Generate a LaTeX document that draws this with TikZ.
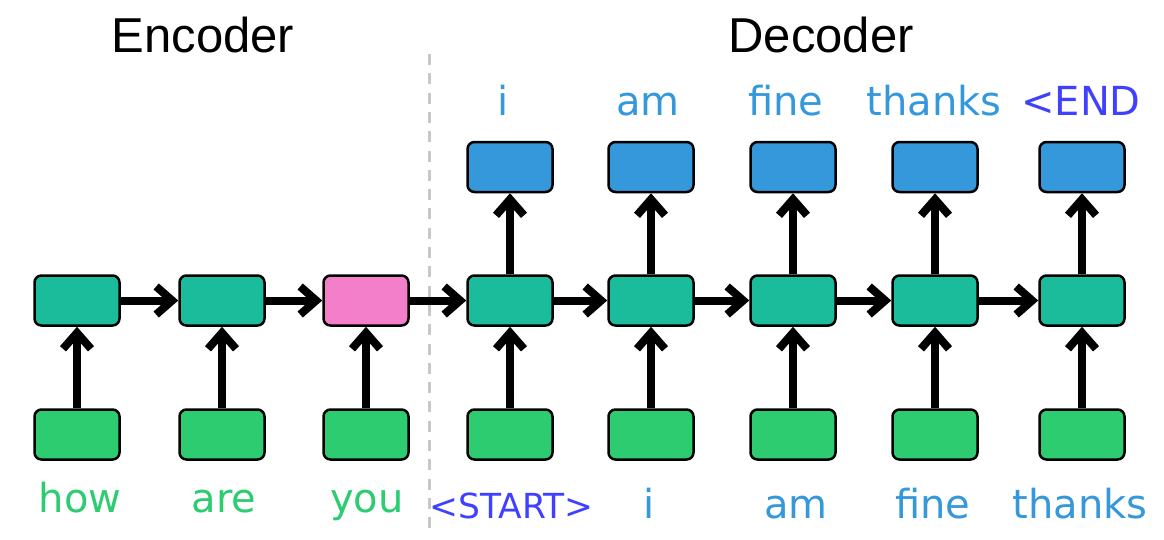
\documentclass[tikz,border=0pt]{standalone}
\usepackage{fontspec}
\setmainfont{DejaVu Sans}
\newfontfamily\titlefont{Liberation Sans}
\usetikzlibrary{arrows.meta}
\definecolor{hidc}{HTML}{1ABC9C}
\definecolor{inc}{HTML}{2ECC71}
\definecolor{outc}{HTML}{3498DB}
\definecolor{ctxc}{HTML}{F37EC9}
\definecolor{tokc}{HTML}{4040FF}
\definecolor{sepc}{HTML}{C8C8C8}
\tikzset{
  cell/.style={draw=black, line width=2.5pt, rounded corners=7pt, minimum width=85pt, minimum height=50pt, inner sep=0pt},
  hid/.style={cell, fill=hidc},
  inp/.style={cell, fill=inc},
  outp/.style={cell, fill=outc},
  ctx/.style={cell, fill=ctxc},
  arr/.style={line width=8pt, -{Straight Barb[sharp, length=16pt, width=28pt]}},
  lbl/.style={anchor=base, inner sep=0pt, font=\fontsize{40}{48}\selectfont},
  sml/.style={anchor=base, inner sep=0pt, font=\fontsize{34.5}{42}\selectfont},
  ttl/.style={anchor=base, inner sep=0pt, font=\titlefont\fontsize{49}{58}\selectfont},
}
\begin{document}
\begin{tikzpicture}[x=1pt,y=-1pt]
\useasboundingbox (0,0) rectangle (1164,539);
% separator
\coordinate (s1) at (429,54);
\coordinate (s2) at (429,532);
\draw[sepc, line width=3pt, dash pattern=on 11pt off 8.3pt] (s1) -- (s2);
% titles
\node[ttl] (tenc) at (203,52) {Encoder};
\node[ttl] (tdec) at (821,52) {Decoder};
% encoder
\node[hid] (h1) at (77,300.5) {};
\node[hid] (h2) at (222,300.5) {};
\node[ctx] (h3) at (366,300.5) {};
\node[inp] (x1) at (77,434.5) {};
\node[inp] (x2) at (222,434.5) {};
\node[inp] (x3) at (366,434.5) {};
% decoder
\node[hid] (d1) at (510,300.5) {};
\node[hid] (d2) at (651,300.5) {};
\node[hid] (d3) at (793,300.5) {};
\node[hid] (d4) at (935,300.5) {};
\node[hid] (d5) at (1082,300.5) {};
\node[inp] (y1) at (510,434.5) {};
\node[inp] (y2) at (651,434.5) {};
\node[inp] (y3) at (793,434.5) {};
\node[inp] (y4) at (935,434.5) {};
\node[inp] (y5) at (1082,434.5) {};
\node[outp] (o1) at (510,167) {};
\node[outp] (o2) at (651,167) {};
\node[outp] (o3) at (793,167) {};
\node[outp] (o4) at (935,167) {};
\node[outp] (o5) at (1082,167) {};
% arrows
\foreach \a/\b in {h1/h2,h2/h3,h3/d1,d1/d2,d2/d3,d3/d4,d4/d5}
  \draw[arr] (\a.east) -- (\b.west);
\foreach \a/\b in {x1/h1,x2/h2,x3/h3,y1/d1,y2/d2,y3/d3,y4/d4,y5/d5}
  \draw[arr] (\a.north) -- (\b.south);
\foreach \a/\b in {d1/o1,d2/o2,d3/o3,d4/o4,d5/o5}
  \draw[arr] (\a.north) -- (\b.south);
% labels
\node[lbl, text=inc] (lhow) at (80,512) {how};
\node[lbl, text=inc] (lare) at (224,512) {are};
\node[lbl, text=inc] (lyou) at (367,512) {you};
\node[sml, text=tokc] (lst) at (511.5,518) {<START>};
\node[lbl, text=outc] (li) at (649.5,518) {i};
\node[lbl, text=outc] (lam) at (796,518) {am};
\node[lbl, text=outc] (lfine) at (933,518) {fine};
\node[lbl, text=outc] (lthanks) at (1080,518) {thanks};
\node[lbl, text=outc] (ti) at (503,115) {i};
\node[lbl, text=outc] (tam) at (648,115) {am};
\node[lbl, text=outc] (tfine) at (786,115) {fine};
\node[lbl, text=outc] (tthanks) at (934,115) {thanks};
\node[lbl, text=tokc] (tend) at (1081,115) {<END};
\end{tikzpicture}
\end{document}
